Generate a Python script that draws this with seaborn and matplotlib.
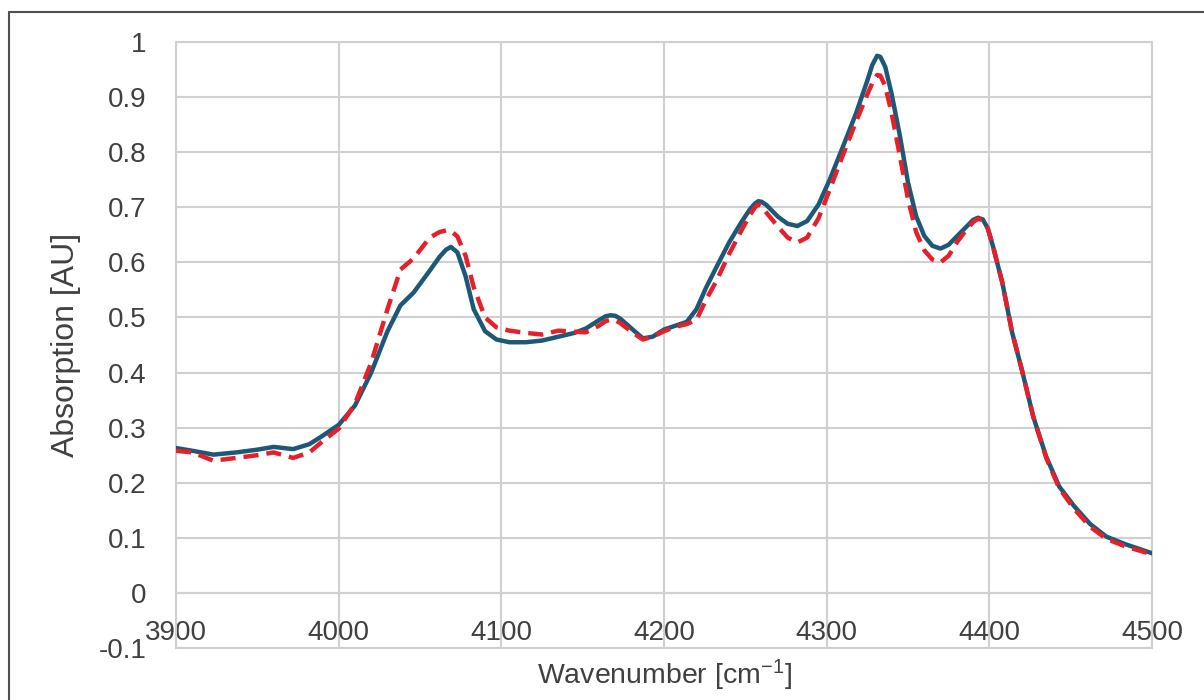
import matplotlib
matplotlib.use("Agg")
import matplotlib.pyplot as plt
from matplotlib.lines import Line2D
import seaborn as sns

wavenumber = [3900, 3910, 3923, 3937, 3950, 3960, 3972, 3982, 3990, 4000, 4010, 4020, 4030, 4038, 4046,
              4056, 4062, 4066, 4069, 4073, 4078, 4083, 4090, 4097, 4105, 4115, 4125, 4135, 4145, 4152, 4160,
              4164, 4167, 4170, 4173, 4180, 4187, 4193, 4200, 4207, 4214, 4220, 4226, 4232, 4240, 4248, 4253,
              4256, 4258, 4260, 4263, 4270, 4276, 4282, 4288, 4295, 4302, 4310, 4318, 4325, 4328, 4331, 4333,
              4336, 4340, 4345, 4350, 4355, 4360, 4365, 4370, 4375, 4380, 4386, 4390, 4393, 4396, 4399, 4402,
              4408, 4414, 4420, 4427, 4435, 4443, 4452, 4462, 4472, 4484, 4500]

series_solid = [0.263, 0.258, 0.251, 0.255, 0.260, 0.265, 0.261, 0.270, 0.285, 0.305, 0.340, 0.400, 0.475, 0.522, 0.545,
                0.585, 0.610, 0.623, 0.628, 0.618, 0.575, 0.515, 0.475, 0.460, 0.455, 0.455, 0.458, 0.465, 0.472, 0.480, 0.495,
                0.502, 0.504, 0.503, 0.498, 0.480, 0.462, 0.465, 0.478, 0.485, 0.492, 0.515, 0.555, 0.590, 0.636, 0.675, 0.697,
                0.707, 0.711, 0.710, 0.704, 0.683, 0.670, 0.666, 0.675, 0.705, 0.751, 0.810, 0.870, 0.930, 0.958, 0.975, 0.973,
                0.955, 0.905, 0.830, 0.745, 0.684, 0.648, 0.630, 0.625, 0.632, 0.647, 0.665, 0.677, 0.681, 0.678, 0.662, 0.632,
                0.563, 0.473, 0.405, 0.320, 0.247, 0.193, 0.158, 0.125, 0.102, 0.088, 0.072]

series_dashed = [0.258, 0.255, 0.240, 0.245, 0.250, 0.255, 0.245, 0.255, 0.275, 0.298, 0.343, 0.418, 0.515, 0.587, 0.607,
                 0.645, 0.655, 0.658, 0.657, 0.647, 0.612, 0.555, 0.500, 0.482, 0.476, 0.472, 0.469, 0.476, 0.474, 0.473, 0.485,
                 0.493, 0.496, 0.495, 0.490, 0.474, 0.460, 0.465, 0.475, 0.483, 0.488, 0.496, 0.533, 0.565, 0.615, 0.660, 0.687,
                 0.700, 0.705, 0.702, 0.690, 0.665, 0.645, 0.636, 0.645, 0.680, 0.733, 0.795, 0.855, 0.905, 0.925, 0.940, 0.939,
                 0.920, 0.870, 0.793, 0.715, 0.655, 0.622, 0.605, 0.600, 0.612, 0.636, 0.660, 0.673, 0.679, 0.677, 0.662, 0.632,
                 0.563, 0.473, 0.405, 0.320, 0.245, 0.190, 0.153, 0.120, 0.098, 0.084, 0.070]

x_ticks = [3900, 4000, 4100, 4200, 4300, 4400, 4500]
y_ticks = [-0.1, 0, 0.1, 0.2, 0.3, 0.4, 0.5, 0.6, 0.7, 0.8, 0.9, 1.0]
y_tick_labels = ["-0.1", "0", "0.1", "0.2", "0.3", "0.4", "0.5", "0.6", "0.7", "0.8", "0.9", "1"]

sns.set_theme(style="white")
plt.rcParams['font.family'] = ['Liberation Sans', 'DejaVu Sans']
plt.rcParams['mathtext.fontset'] = 'custom'
plt.rcParams['mathtext.rm'] = 'Liberation Sans'
plt.rcParams['mathtext.default'] = 'regular'

TEXT = "#404040"
GRID = "#d0d0d0"

fig = plt.figure(figsize=(12.04, 7.0), dpi=100)
ax = fig.add_axes([0.1462, 0.0743, 0.8106, 0.8657])

sns.lineplot(x=wavenumber, y=series_solid, ax=ax, color="#1d5877", linewidth=3.2, zorder=3)
sns.lineplot(x=wavenumber, y=series_dashed, ax=ax, color="#e5202a", linewidth=3.2,
             linestyle=(0, (3.4, 1.8)), zorder=4)

ax.set_xlim(3900, 4500)
ax.set_ylim(-0.1, 1.0)
ax.set_xticks(x_ticks)
ax.set_yticks(y_ticks)
ax.set_yticklabels(y_tick_labels)

ax.grid(True, color=GRID, linewidth=1.5)
for side in ["left", "right", "top", "bottom"]:
    ax.spines[side].set_visible(True)
    ax.spines[side].set_color(GRID)
    ax.spines[side].set_linewidth(1.5)
ax.axhline(0, color=GRID, linewidth=1.5, zorder=1)

ax.tick_params(axis='y', length=0, pad=21, labelsize=20, labelcolor=TEXT)
ax.tick_params(axis='x', length=0, pad=-20, labelsize=20, labelcolor=TEXT)

ax.set_xlabel("Wavenumber [cm$^{-1}$]", fontsize=20.5, color=TEXT)
ax.set_ylabel("Absorption [AU]", fontsize=23, color=TEXT)
ax.xaxis.set_label_coords(0.5, -0.016)
ax.yaxis.set_label_coords(-0.097, 0.5)

fig.add_artist(Line2D([0.0075, 0.0075], [0.0, 0.983], transform=fig.transFigure, color="#505050", linewidth=1.5))
fig.add_artist(Line2D([0.0075, 1.0], [0.983, 0.983], transform=fig.transFigure, color="#505050", linewidth=1.5))

fig.savefig("out.png", dpi=100, facecolor="white")
